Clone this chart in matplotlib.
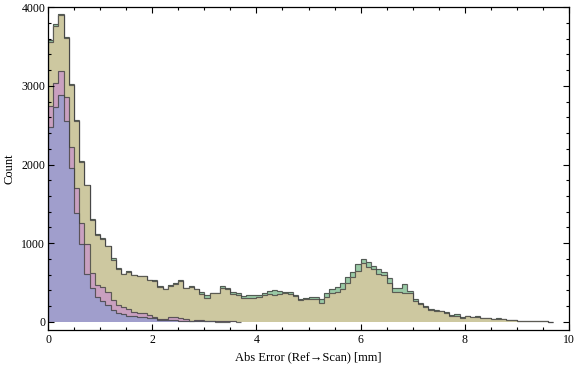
import numpy as np
import matplotlib
matplotlib.use("Agg")
import matplotlib.pyplot as plt
from matplotlib.ticker import MultipleLocator

plt.rcParams['font.family'] = ['Liberation Serif', 'DejaVu Serif']

# histogram bins: 0.1 mm wide, starting at 0
bin_width = 0.1

green_counts = [3590, 3785, 3915, 3625, 3025, 2565, 2045, 1745, 1305, 1115,
                1062, 965, 808, 690, 612, 640, 600, 588, 588, 530,
                525, 450, 420, 470, 495, 530, 435, 450, 420, 374,
                340, 365, 365, 450, 433, 374, 370, 327, 335, 335,
                335, 361, 390, 399, 390, 374, 374, 344, 285, 297,
                310, 318, 289, 370, 420, 445, 496, 565, 628, 734,
                794, 763, 712, 670, 636, 552, 433, 433, 476, 395,
                285, 240, 205, 160, 145, 140, 118, 80, 95, 55,
                76, 64, 68, 45, 43, 35, 43, 32, 25, 20,
                8, 8, 8, 6, 6, 5, 3]

olive_counts = [3562, 3766, 3902, 3613, 3011, 2557, 2032, 1735, 1298, 1105,
                1055, 958, 790, 668, 607, 634, 594, 583, 583, 525,
                520, 445, 416, 454, 476, 522, 425, 445, 416, 352,
                298, 361, 361, 425, 416, 352, 340, 302, 302, 305,
                310, 340, 352, 340, 348, 361, 352, 331, 276, 285,
                293, 289, 242, 318, 361, 374, 412, 488, 565, 649,
                743, 700, 667, 607, 594, 488, 382, 382, 369, 369,
                270, 225, 190, 150, 135, 135, 110, 76, 76, 50,
                72, 64, 64, 43, 43, 30, 35, 30, 22, 20,
                8, 8, 8, 6, 6, 5, 3]

pink_counts = [2748, 3033, 3193, 2863, 2219, 1697, 1252, 985, 616, 467,
               445, 382, 276, 212, 183, 158, 127, 115, 115, 85,
               64, 36, 38, 55, 55, 43, 36, 15, 22, 22,
               8, 6, 5, 5, 4, 4, 3]

blue_counts = [2473, 2728, 2880, 2557, 1951, 1379, 988, 607, 425, 318,
               263, 212, 149, 107, 94, 72, 72, 64, 64, 43,
               43, 22, 22, 20, 18, 15, 12, 10, 8, 6,
               5, 4, 3, 3, 2]

series = [
    (green_counts, '#9acaa6'),
    (olive_counts, '#cdc8a0'),
    (pink_counts, '#c9a0c0'),
    (blue_counts, '#a09ecc'),
]

fig = plt.figure(figsize=(5.76, 3.70), dpi=100)
ax = fig.add_axes([48 / 576, 40 / 370, 521 / 576, 323.5 / 370])

for counts, col in series:
    edges = np.arange(len(counts) + 1) * bin_width
    ax.stairs(counts, edges, baseline=0, fill=True, color=col, lw=0)
    ax.stairs(counts, edges, baseline=0, fill=False, color='#404040',
              lw=0.85, alpha=0.8)

ax.set_xlim(0, 10)
ax.set_ylim(-105, 4010)

ax.xaxis.set_major_locator(MultipleLocator(2))
ax.xaxis.set_minor_locator(MultipleLocator(0.5))
ax.yaxis.set_major_locator(MultipleLocator(1000))
ax.yaxis.set_minor_locator(MultipleLocator(200))

ax.tick_params(which='both', direction='in', top=True, right=True,
               width=0.8, labelsize=8.5)
ax.tick_params(which='major', length=4.5)
ax.tick_params(which='minor', length=2.5)
ax.tick_params(axis='x', pad=3)
ax.tick_params(axis='y', pad=2)
for sp in ax.spines.values():
    sp.set_linewidth(0.9)

ax.set_xlabel('Abs Error (Ref\u2192Scan) [mm]', fontsize=9, labelpad=4)
ax.set_ylabel('Count', fontsize=9, labelpad=4)

fig.savefig('out.png', dpi=100)
